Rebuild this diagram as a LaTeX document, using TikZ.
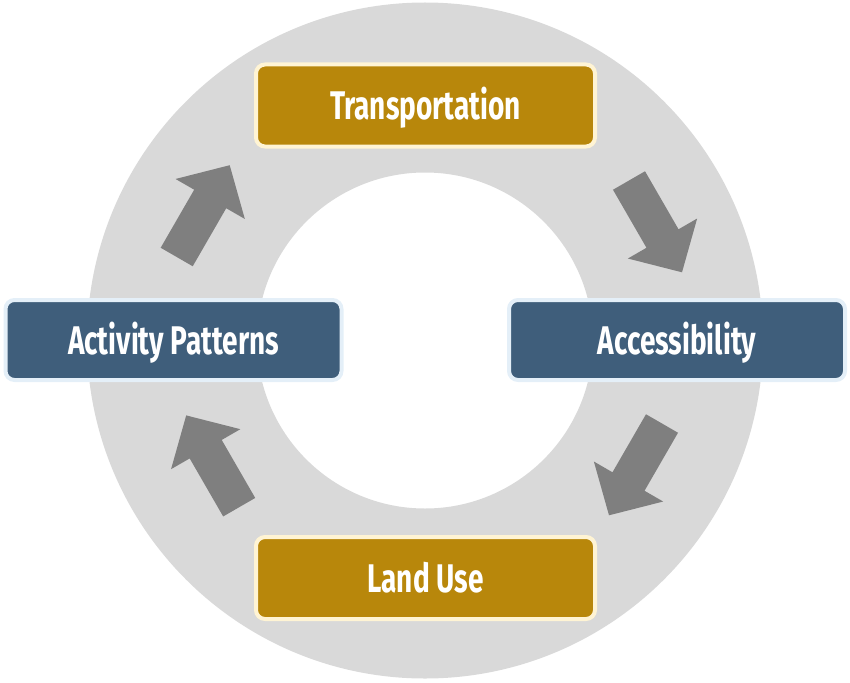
\documentclass[tikz,border=0pt]{standalone}
\usepackage{fontspec}
\newfontfamily\agency[FakeStretch=0.7]{Fira Sans}
\definecolor{ringgray}{HTML}{D9D9D9}
\definecolor{arrowgray}{HTML}{7F7F7F}
\definecolor{goldfill}{HTML}{B8870B}
\definecolor{goldline}{HTML}{FFF4D4}
\definecolor{bluefill}{HTML}{3F5E7B}
\definecolor{blueline}{HTML}{E4EFF8}
\begin{document}
\begin{tikzpicture}[x=1pt,y=-1pt,
  labelfont/.style={font=\agency\bfseries\fontsize{40pt}{48pt}\selectfont, text=white,
    text height=28pt, text depth=0pt},
  cyclebox/.style={labelfont, line width=4pt, rounded corners=9pt, inner sep=0pt},
  goldbox/.style={cyclebox, fill=goldfill, draw=goldline, minimum width=339pt, minimum height=82pt},
  bluebox/.style={cyclebox, fill=bluefill, draw=blueline, minimum width=336pt, minimum height=80pt},
  blockarrow/.pic={\fill[arrowgray] (0,-18.5) -- (67,-18.5) -- (67,-40) -- (106,0) -- (67,40) -- (67,18.5) -- (0,18.5) -- cycle;}
]
\useasboundingbox (0,0) rectangle (850,682);
% ring
\fill[ringgray, even odd rule] (425,340.5) circle (338pt) (425,340.5) circle (168pt);
% boxes
\node[goldbox] (trans) at (425.5,105.5) {Transportation};
\node[bluebox] (access) at (677,340) {Accessibility};
\node[goldbox] (land) at (425.5,578) {Land Use};
\node[bluebox] (activity) at (173.5,340) {Activity Patterns};
% block arrows
\pic[rotate=60] at (176.7,257) {blockarrow};
\pic[rotate=-60] at (629,180.5) {blockarrow};
\pic[rotate=-120] at (662,423.5) {blockarrow};
\pic[rotate=120] at (239.2,507.2) {blockarrow};
\end{tikzpicture}
\end{document}
